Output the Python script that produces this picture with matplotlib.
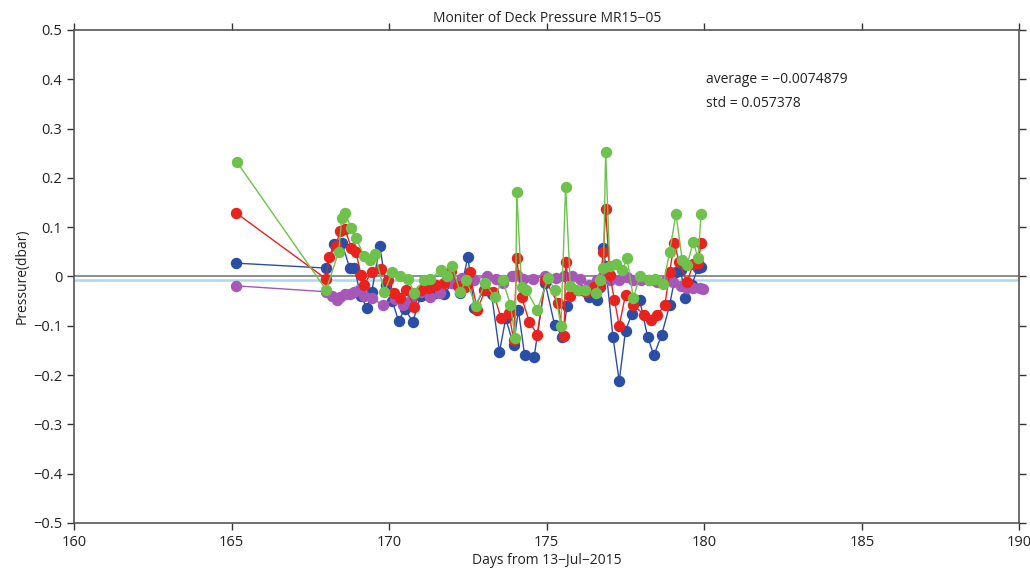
import matplotlib
matplotlib.use("Agg")
import matplotlib.pyplot as plt

plt.rcParams['font.family'] = ['Open Sans', 'DejaVu Sans']

blue_x = [165.14, 168.0, 168.25, 168.5, 168.75, 168.9, 169.1, 169.3, 169.45, 169.7, 169.9,
          170.1, 170.3, 170.5, 170.75, 171.0, 171.2, 171.45, 171.75, 172.0, 172.25, 172.5,
          172.7, 173.0, 173.25, 173.5, 173.7, 173.95, 174.1, 174.3, 174.6, 174.95, 175.25,
          175.5, 175.65, 176.05, 176.35, 176.6, 176.7, 176.8, 176.87, 177.1, 177.3, 177.5,
          177.7, 177.95, 178.2, 178.4, 178.65, 178.9, 179.1, 179.25, 179.4, 179.6, 179.8, 179.9]
blue_y = [0.027, 0.017, 0.066, 0.068, 0.017, 0.017, -0.040, -0.064, -0.031, 0.062, -0.017,
          -0.05, -0.09, -0.066, -0.092, -0.04, -0.027, -0.034, -0.036, -0.013, -0.034, 0.040,
          -0.064, -0.027, -0.036, -0.153, -0.085, -0.14, -0.068, -0.16, -0.163, -0.013, -0.098,
          -0.122, -0.06, -0.027, -0.042, -0.048, -0.021, 0.058, 0.021, -0.122, -0.212, -0.11,
          -0.076, -0.048, -0.122, -0.16, -0.118, -0.058, 0.009, 0.013, -0.044, -0.017, 0.017, 0.019]

red_x = [165.14, 168.0, 168.1, 168.3, 168.45, 168.6, 168.8, 168.95, 169.1, 169.2, 169.45,
         169.75, 169.95, 170.15, 170.35, 170.55, 170.8, 171.0, 171.25, 171.5, 171.75, 171.95,
         172.2, 172.4, 172.55, 172.8, 173.05, 173.3, 173.55, 173.8, 173.95, 174.05, 174.2,
         174.45, 174.7, 174.95, 175.35, 175.55, 175.6, 175.75, 176.0, 176.25, 176.5, 176.7,
         176.8, 176.87, 177.0, 177.15, 177.3, 177.5, 177.75, 178.1, 178.3, 178.5, 178.75,
         178.9, 179.05, 179.2, 179.45, 179.65, 179.8, 179.9]
red_y = [0.129, -0.005, 0.04, 0.062, 0.092, 0.096, 0.058, 0.05, 0.003, -0.017, 0.009,
         0.015, -0.007, -0.033, -0.044, -0.027, -0.062, -0.027, -0.023, -0.017, -0.013, 0.011,
         -0.019, -0.021, 0.009, -0.068, -0.027, -0.031, -0.085, -0.074, -0.129, 0.037, -0.042,
         -0.092, -0.118, -0.007, -0.054, -0.121, 0.03, -0.039, -0.027, -0.031, -0.021, -0.019,
         0.05, 0.137, 0.003, -0.048, -0.1, -0.037, -0.058, -0.078, -0.088, -0.078, -0.058,
         0.009, 0.068, 0.029, -0.011, 0.025, 0.027, 0.068]

green_x = [165.17, 168.0, 168.4, 168.5, 168.6, 168.8, 168.95, 169.2, 169.4, 169.55, 169.85,
           170.1, 170.35, 170.6, 170.8, 171.1, 171.3, 171.65, 171.85, 172.0, 172.25, 172.45,
           172.75, 173.05, 173.35, 173.6, 173.85, 174.0, 174.05, 174.2, 174.35, 174.7, 175.05,
           175.25, 175.45, 175.6, 175.75, 176.0, 176.2, 176.55, 176.7, 176.8, 176.87, 177.0,
           177.2, 177.4, 177.55, 177.75, 177.95, 178.25, 178.45, 178.7, 178.9, 179.1, 179.3,
           179.45, 179.65, 179.8, 179.9]
green_y = [0.232, -0.027, 0.05, 0.119, 0.129, 0.098, 0.078, 0.042, 0.033, 0.045, -0.031,
           0.009, 0.001, -0.005, -0.033, -0.007, -0.005, 0.013, 0.001, 0.021, -0.031, -0.007,
           -0.06, -0.013, -0.042, -0.007, -0.058, -0.125, 0.171, -0.021, -0.027, -0.068, -0.003,
           -0.027, -0.1, 0.182, -0.019, -0.027, -0.027, -0.034, -0.007, 0.017, 0.252, 0.021,
           0.025, 0.013, 0.037, -0.044, 0.001, -0.007, -0.005, -0.015, 0.05, 0.127, 0.033,
           0.023, 0.07, 0.037, 0.127]

purple_x = [165.14, 168.0, 168.2, 168.35, 168.45, 168.6, 168.75, 168.9, 169.05, 169.2, 169.45,
            169.8, 170.2, 170.45, 170.7, 171.0, 171.3, 171.6, 172.0, 172.3, 172.7, 173.1,
            173.4, 173.6, 173.9, 174.05, 174.25, 174.55, 174.95, 175.3, 175.55, 175.8, 176.05,
            176.35, 176.6, 176.8, 177.0, 177.3, 177.55, 177.75, 178.0, 178.25, 178.5, 178.8,
            179.0, 179.25, 179.45, 179.65, 179.85, 179.95]
purple_y = [-0.019, -0.031, -0.04, -0.048, -0.042, -0.036, -0.036, -0.031, -0.027, -0.04, -0.044,
            -0.058, -0.046, -0.058, -0.048, -0.031, -0.042, -0.034, -0.013, -0.003, -0.007, 0.001,
            -0.005, -0.013, 0.001, 0.003, -0.005, -0.005, 0.001, -0.003, 0.001, 0.001, -0.005,
            -0.017, -0.007, 0.001, -0.007, -0.007, -0.001, -0.007, -0.007, -0.007, -0.011, -0.007,
            -0.011, -0.019, -0.023, -0.023, -0.023, -0.025]

average = -0.0074879
std = 0.057378

fig = plt.figure(figsize=(10.3, 5.72), dpi=100)
ax = fig.add_axes([0.0718, 0.0857, 0.918, 0.862])

ax.axhline(0, color='#7a7a7a', lw=1.2, zorder=1)
ax.axhline(average, color='#a9d9ec', lw=1.8, zorder=1)

ms = 7.2
ax.plot(blue_x, blue_y, '-o', color='#2a4ea6', ms=ms, lw=1.0, zorder=3)
ax.plot(purple_x, purple_y, '-o', color='#a657b8', ms=ms, lw=1.0, zorder=3)
ax.plot(red_x, red_y, '-o', color='#e8231f', ms=ms, lw=1.0, zorder=4)
ax.plot(green_x, green_y, '-o', color='#6ec24b', ms=ms, lw=1.0, zorder=4)

ax.set_xlim(160, 190)
ax.set_ylim(-0.5, 0.5)
ax.set_xticks([160, 165, 170, 175, 180, 185, 190])
ax.set_yticks([-0.5, -0.4, -0.3, -0.2, -0.1, 0, 0.1, 0.2, 0.3, 0.4, 0.5])
ax.set_yticklabels(['\u22120.5', '\u22120.4', '\u22120.3', '\u22120.2', '\u22120.1', '0',
                    '0.1', '0.2', '0.3', '0.4', '0.5'])
ax.tick_params(direction='out', length=5, width=1, labelsize=10.5, colors='#333333',
               top=True, right=True, labelcolor='#222222')
for s in ax.spines.values():
    s.set_color('#555555')
    s.set_linewidth(1.2)

ax.set_title('Moniter of Deck Pressure MR15\u221205', fontsize=10, pad=6, color='#222222')
ax.set_xlabel('Days from 13\u2212Jul\u22122015', fontsize=10, labelpad=2, color='#222222')
ax.set_ylabel('Pressure(dbar)', fontsize=10, labelpad=2, color='#222222')

ax.text(180.04, 0.399, 'average = \u22120.0074879', fontsize=10, va='center', ha='left', color='#222222')
ax.text(180.04, 0.350, 'std = 0.057378', fontsize=10, va='center', ha='left', color='#222222')

fig.savefig('out.png', dpi=100)
